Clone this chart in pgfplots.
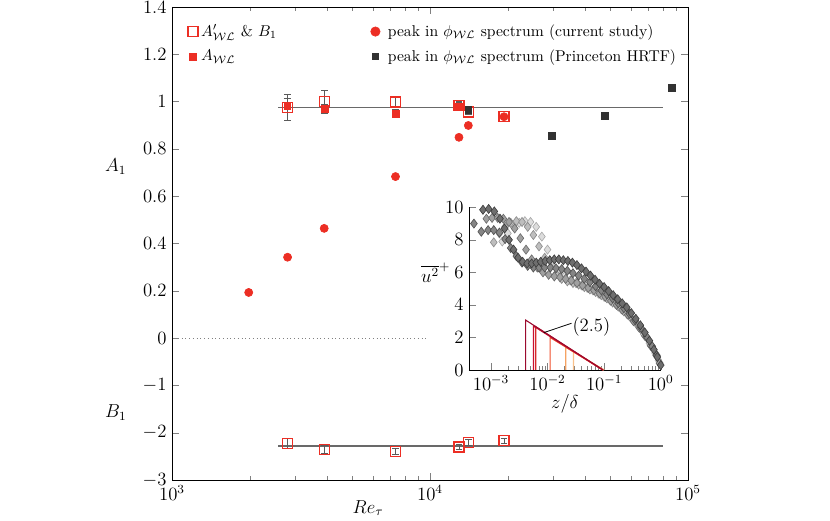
\documentclass[border=0pt]{standalone}
\usepackage{pgfplots}
\usepackage{pgfplotstable}
\pgfplotsset{compat=1.18}
\definecolor{myred}{RGB}{236,46,36}
\definecolor{fitgray}{RGB}{105,105,105}
\definecolor{errgray}{RGB}{90,90,90}
\definecolor{pblack}{RGB}{50,50,50}
\definecolor{g1f}{RGB}{110,110,110}\definecolor{g1d}{RGB}{60,60,60}
\definecolor{g2f}{RGB}{133,133,133}\definecolor{g2d}{RGB}{80,80,80}
\definecolor{g3f}{RGB}{160,160,160}\definecolor{g3d}{RGB}{106,106,106}
\definecolor{g4f}{RGB}{190,190,190}\definecolor{g4d}{RGB}{138,138,138}
\definecolor{g5f}{RGB}{220,220,220}\definecolor{g5d}{RGB}{168,168,168}
\definecolor{r1}{RGB}{155,10,46}
\definecolor{r2}{RGB}{200,16,46}
\definecolor{r3}{RGB}{215,40,42}
\definecolor{r4}{RGB}{240,80,45}
\definecolor{r5}{RGB}{245,162,98}
\definecolor{r6}{RGB}{249,192,138}

\pgfplotstableread{
Re A eA
2800 0.975 0.055
3910 1.000 0.045
7350 0.998 0.018
12950 0.985 0.015
14080 0.956 0.012
19360 0.936 0
}\tabAp
\pgfplotstableread{
Re A eA
2800 0.983 0.03
3910 0.968 0.02
7350 0.950 0.015
12950 0.980 0.015
}\tabA
\pgfplotstableread{
Re B eB
2800 -2.23 0.10
3910 -2.35 0.09
7350 -2.40 0.06
12950 -2.30 0.06
14080 -2.20 0.06
19360 -2.17 0.05
}\tabB
\pgfplotstableread{
Re A
1983 0.193
2805 0.342
3890 0.464
7350 0.683
12950 0.849
14080 0.899
19360 0.936
}\tabPeak
\pgfplotstableread{
Re A
14080 0.966
29700 0.854
47650 0.940
86500 1.060
}\tabPrin
\pgfplotstableread{
Re A B
2580 0.974 -2.277
80000 0.974 -2.277
}\tabFit

\pgfplotstableread{
z u
7.244e-4 9.85
9.120e-4 9.9
1.148e-3 9.75
1.445e-3 9.3
1.738e-3 8.7
2.089e-3 8.0
2.512e-3 7.4
3.020e-3 6.9
3.631e-3 6.65
4.365e-3 6.55
5.248e-3 6.55
6.310e-3 6.6
7.586e-3 6.65
9.120e-3 6.7
1.096e-2 6.75
1.318e-2 6.8
1.585e-2 6.8
1.905e-2 6.75
2.291e-2 6.7
2.754e-2 6.6
3.311e-2 6.45
3.981e-2 6.25
4.786e-2 6.05
5.754e-2 5.8
6.918e-2 5.55
8.318e-2 5.3
0.1 5.1
0.1202 4.85
0.1445 4.6
0.1738 4.35
0.2089 4.1
0.2512 3.85
0.3020 3.5
0.3631 3.15
0.4365 2.75
0.5248 2.3
0.6310 1.8
0.7586 1.25
0.8710 0.8
1.0 0.3
}\pA
\pgfplotstableread{
z u
5.012e-4 9.0
6.761e-4 8.5
8.913e-4 8.6
1.122e-3 8.6
1.413e-3 8.45
1.778e-3 8.05
2.239e-3 7.5
2.818e-3 7.0
3.548e-3 6.6
4.467e-3 6.4
5.623e-3 6.3
7.079e-3 6.3
8.913e-3 6.3
1.122e-2 6.3
1.413e-2 6.25
1.778e-2 6.2
2.239e-2 6.1
2.818e-2 5.95
3.548e-2 5.8
4.467e-2 5.6
5.623e-2 5.4
7.079e-2 5.15
8.913e-2 4.9
0.1122 4.65
0.1413 4.4
0.1778 4.1
0.2239 3.8
0.2818 3.45
0.3548 3.05
0.4467 2.6
0.5623 2.05
0.7079 1.45
0.8511 0.9
}\pB
\pgfplotstableread{
z u
8.318e-4 9.3
1.047e-3 9.35
1.318e-3 9.35
1.660e-3 9.3
2.089e-3 9.1
2.630e-3 8.7
3.311e-3 8.1
4.169e-3 7.4
5.248e-3 6.8
6.607e-3 6.3
8.318e-3 6.0
1.047e-2 5.85
1.318e-2 5.75
1.660e-2 5.7
2.089e-2 5.6
2.630e-2 5.5
3.311e-2 5.35
4.169e-2 5.2
5.248e-2 5.05
6.607e-2 4.9
8.318e-2 4.7
0.1047 4.5
0.1318 4.25
0.1660 4.0
0.2089 3.7
0.2630 3.4
0.3311 3.0
0.4169 2.6
0.5248 2.1
0.6607 1.5
0.8318 0.9
0.9550 0.4
}\pC
\pgfplotstableread{
z u
1.122e-3 7.85
1.413e-3 8.4
1.778e-3 8.8
2.239e-3 9.05
2.818e-3 9.15
3.548e-3 9.1
4.467e-3 8.8
5.623e-3 8.3
7.079e-3 7.6
8.913e-3 6.9
1.122e-2 6.3
1.413e-2 5.9
1.778e-2 5.6
2.239e-2 5.45
2.818e-2 5.35
3.548e-2 5.25
4.467e-2 5.1
5.623e-2 4.95
7.079e-2 4.8
8.913e-2 4.6
0.1122 4.4
0.1413 4.15
0.1778 3.9
0.2239 3.6
0.2818 3.3
0.3548 2.95
0.4467 2.5
0.5623 2.0
0.7079 1.45
0.8511 0.9
0.9550 0.45
}\pD
\pgfplotstableread{
z u
1.585e-3 7.9
1.995e-3 8.4
2.512e-3 8.8
3.162e-3 9.05
3.981e-3 9.15
5.012e-3 9.1
6.310e-3 8.8
7.943e-3 8.2
1.0e-2 7.4
1.259e-2 6.7
1.585e-2 6.1
1.995e-2 5.75
2.512e-2 5.5
3.162e-2 5.35
3.981e-2 5.2
5.012e-2 5.05
6.310e-2 4.9
7.943e-2 4.7
0.1 4.5
0.1259 4.3
0.1585 4.05
0.1995 3.75
0.2512 3.45
0.3162 3.1
0.3981 2.7
0.5012 2.2
0.6310 1.65
0.7943 1.05
0.9120 0.6
}\pE

\pgfplotsset{errstyle/.style={forget plot, draw=none, mark=none,
  error bars/.cd, y dir=both, y explicit,
  error bar style={draw=errgray, solid, line width=0.6pt},
  error mark options={rotate=90, mark size=2.2pt, draw=errgray, solid, line width=0.6pt}}}

\begin{document}
\begin{tikzpicture}[font=\fontsize{12}{14}\selectfont]
\path[use as bounding box] (0,0) rectangle (531.2pt,332.8pt);
\begin{axis}[
  at={(110.08pt,25.6pt)}, anchor=south west, scale only axis,
  width=330.24pt, height=302.72pt,
  xmode=log, xmin=1000, xmax=100000,
  ymin=-3, ymax=7,
  ytick={-3,-2,-1,0,1,2,3,4,5,6,7},
  yticklabels={$-3$,$-2$,$-1$,$0$,$0.2$,$0.4$,$0.6$,$0.8$,$1$,$1.2$,$1.4$},
  tick align=inside,
  clip=false,
  legend columns=2,
  legend cell align=left,
  legend style={at={(rel axis cs:0.0,1.0)}, anchor=north west, xshift=7pt, yshift=-7pt,
    draw=none, fill=none,
    font=\fontsize{10}{12}\selectfont,
    row sep=3pt, /tikz/every even column/.append style={column sep=58pt}},
]
\addlegendimage{only marks, mark=square, mark size=3.2pt, myred, line width=0.8pt}
\addlegendentry{$A'_{\mathcal{W}\mathcal{L}}$ \& $B_1$}
\addlegendimage{only marks, mark=*, mark size=3pt, myred}
\addlegendentry{\hspace{3pt}peak in $\phi_{\mathcal{W}\mathcal{L}}$ spectrum (current study)}
\addlegendimage{only marks, mark=square*, mark size=2.2pt, myred}
\addlegendentry{$A_{\mathcal{W}\mathcal{L}}$}
\addlegendimage{only marks, mark=square*, mark size=1.9pt, pblack}
\addlegendentry{\hspace{3pt}peak in $\phi_{\mathcal{W}\mathcal{L}}$ spectrum (Princeton HRTF)}

% zero line
\addplot[forget plot, gray, dotted] coordinates {(1090,0) (9800,0)};
% fit lines
\addplot[forget plot, fitgray, line width=0.9pt] table[x=Re, y expr=5*\thisrow{A}] {\tabFit};
\addplot[forget plot, fitgray, line width=0.9pt] table[x=Re, y=B] {\tabFit};
% open squares A'
\addplot[forget plot, only marks, mark=square, mark size=3.2pt, myred, line width=0.8pt]
  table[x=Re, y expr=5*\thisrow{A}] {\tabAp};
\addplot[forget plot, only marks, mark=square, mark size=3.2pt, myred, line width=0.8pt]
  table[x=Re, y=B] {\tabB};
% filled squares A
\addplot[forget plot, only marks, mark=square*, mark size=2.2pt, myred]
  table[x=Re, y expr=5*\thisrow{A}] {\tabA};
% error bars
\addplot[errstyle] table[x=Re, y expr=5*\thisrow{A}, y error expr=5*\thisrow{eA}] {\tabAp};
\addplot[errstyle] table[x=Re, y expr=5*\thisrow{A}, y error expr=5*\thisrow{eA}] {\tabA};
\addplot[errstyle] table[x=Re, y=B, y error=eB] {\tabB};
% peaks
\addplot[forget plot, only marks, mark=*, mark size=2.6pt, myred]
  table[x=Re, y expr=5*\thisrow{A}] {\tabPeak};
\addplot[forget plot, only marks, mark=square*, mark size=2.2pt, pblack]
  table[x=Re, y expr=5*\thisrow{A}] {\tabPrin};

\node at (rel axis cs:0,0.662) [xshift=-36pt] {$A_1$};
\node at (rel axis cs:0,0.1417) [xshift=-36pt] {$B_1$};
\node at (rel axis cs:0.38,0) [yshift=-18pt] {$Re_\tau$};
\end{axis}

\begin{axis}[
  at={(300.16pt,96pt)}, anchor=south west, scale only axis,
  width=122.7pt, height=104.1pt,
  xmode=log, xmin=4.1e-4, xmax=1, ymin=0, ymax=10,
  axis x line*=bottom, axis y line*=left,
  axis line style={-},
  ytick={0,2,4,6,8,10},
  xtick={1e-3,1e-2,1e-1,1},
  tick align=inside,
  xlabel={$z/\delta$}, xlabel style={yshift=4pt},
  clip=false,
]
\addplot[only marks, mark=diamond*, mark size=2.9pt, mark options={fill=g5f, draw=g5d, line width=0.4pt}] table[x=z,y=u] {\pE};
\addplot[only marks, mark=diamond*, mark size=2.9pt, mark options={fill=g4f, draw=g4d, line width=0.4pt}] table[x=z,y=u] {\pD};
\addplot[only marks, mark=diamond*, mark size=2.9pt, mark options={fill=g3f, draw=g3d, line width=0.4pt}] table[x=z,y=u] {\pC};
\addplot[only marks, mark=diamond*, mark size=2.9pt, mark options={fill=g2f, draw=g2d, line width=0.4pt}] table[x=z,y=u] {\pB};
\addplot[only marks, mark=diamond*, mark size=2.9pt, mark options={fill=g1f, draw=g1d, line width=0.4pt}] table[x=z,y=u] {\pA};

\addplot[r6, line width=0.7pt] coordinates {(2.88e-2,0) (2.88e-2,1.15) (0.1,0)};
\addplot[r5, line width=0.7pt] coordinates {(2.1e-2,0) (2.1e-2,1.4) (0.1,0)};
\addplot[r4, line width=0.7pt] coordinates {(1.11e-2,0) (1.11e-2,2.0) (0.095,0)};
\addplot[r3, line width=0.7pt] coordinates {(6.2e-3,0) (6.2e-3,2.66) (0.095,0)};
\addplot[r2, line width=0.7pt] coordinates {(5.66e-3,0) (5.66e-3,2.7) (0.095,0)};
\addplot[r1, line width=0.7pt] coordinates {(4.1e-3,0) (4.1e-3,3.07) (0.096,0)};

\draw[black, line width=0.5pt] (axis cs:8.6e-3,2.3) -- (axis cs:2.65e-2,2.87);
\node at (axis cs:5.97e-2,2.66) {$(2.5)$};
\node[anchor=east] at (rel axis cs:0,0.6) [xshift=-8.5pt] {$\overline{u^2}^+$};
\end{axis}
\end{tikzpicture}
\end{document}
